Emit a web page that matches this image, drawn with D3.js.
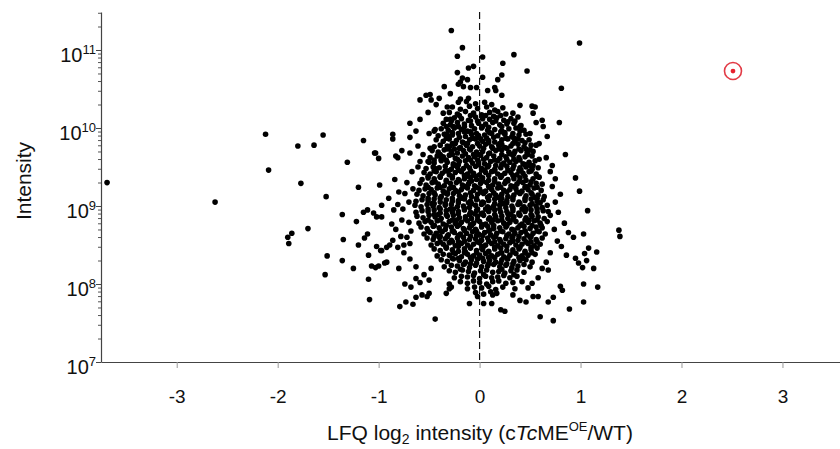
<!DOCTYPE html>
<html>
<head>
<meta charset="utf-8">
<script src="https://cdn.jsdelivr.net/npm/d3@7"></script>
<style>
  body { margin: 0; background: #fff; }
  text { font-family: "Liberation Sans", Arial, sans-serif; }
</style>
</head>
<body>
<svg id="graph"></svg>
<script>
// x: LFQ log2 ratio (cTcME OE / WT), e: log10 of intensity
var xTicks = [-3, -2, -1, 0, 1, 2, 3];
var yDecades = [7, 8, 9, 10, 11];

// the highlighted protein (red circle)
var highlight = [2.51, 10.73];

// sparse points around the cloud
var outliers = [
  [-3.69,9.30],[-2.62,9.05],[-2.12,9.92],[-2.09,9.46],[-1.80,9.77],[-1.64,9.78],[-1.55,9.91],[-1.77,9.29],
  [-1.52,9.12],[-1.70,8.71],[-1.86,8.65],[-1.90,8.60],[-1.89,8.52],[-1.51,8.36],[-1.53,8.12],
  [-1.31,9.56],[-1.20,9.24],[-1.15,9.84],[-1.03,9.68],[-1.00,9.61],[-0.99,9.27],[-0.97,9.01],[-1.36,8.89],
  [-1.15,8.92],[-1.11,8.95],[-1.05,8.91],[-1.02,8.86],[-0.97,8.86],[-1.22,8.80],[-1.35,8.57],[-1.20,8.50],
  [-1.11,8.64],[-1.14,8.59],[-1.02,8.48],[-0.97,8.43],[-0.92,8.47],[-1.36,8.30],[-1.25,8.20],[-1.10,8.37],
  [-1.07,8.23],[-1.03,8.21],[-1.00,8.23],[-0.94,8.27],[-0.92,8.28],[-1.10,8.06],[-1.09,7.80],
  [-0.28,11.25],[-0.17,11.03],[-0.22,10.92],[0.03,10.91],[-0.11,10.77],[-0.06,10.79],[-0.22,10.71],[0.03,10.65],
  [-0.17,10.64],[-0.12,10.62],[-0.21,10.56],[-0.19,10.59],[-0.35,10.53],[-0.16,10.53],[-0.09,10.52],[-0.03,10.52],
  [-0.29,10.44],[-0.53,10.42],[-0.49,10.43],[-0.59,10.36],[-0.48,10.36],[-0.43,10.30],[-0.40,10.38],[-0.32,10.27],
  [-0.21,10.33],[-0.19,10.37],[-0.11,10.38],[-0.51,10.20],[-0.36,10.19],[-0.69,10.06],[-0.59,10.11],[-0.63,9.96],
  [-0.50,9.93],[-0.44,9.98],[-0.45,9.96],[-0.29,10.11],[-0.86,9.92],[-0.86,9.86],[-0.69,9.88],[-0.35,9.92],
  [-0.32,9.91],[-0.61,9.77],[-0.77,9.71],[-0.69,9.68],[-0.83,9.64],[-0.81,9.62],[-1.04,9.68],[-0.56,9.66],
  [-0.49,9.74],[-0.41,9.65],[-0.30,9.76],[-0.24,9.80],[-0.59,9.57],[-0.61,9.50],[-0.50,9.56],[-0.44,9.48],[-0.67,9.44],
  [0.99,11.09],[0.34,10.94],[0.23,10.83],[0.47,10.73],[0.22,10.68],[0.18,10.62],[0.81,10.51],[0.08,10.48],
  [0.15,10.52],[0.16,10.48],[0.22,10.42],[0.40,10.29],[0.52,10.28],[0.55,10.27],[0.53,10.19],[0.79,10.07],
  [0.62,10.10],[0.56,10.07],[0.63,10.02],[0.67,9.89],[0.85,9.66],[0.59,9.80],[0.56,9.78],[0.59,9.60],
  [0.70,9.44],[0.50,9.93],[0.50,9.72],
  [0.95,9.36],[0.99,9.19],[1.07,8.94],[1.38,8.69],[1.39,8.61],[1.03,8.64],[1.16,8.41],[1.08,8.46],
  [1.04,8.39],[0.95,8.33],[0.98,8.27],[1.06,8.30],[1.02,8.21],[1.13,8.20],[1.17,7.96],[1.03,8.00],
  [1.03,7.77],[0.89,7.68],[0.60,7.58],[0.73,7.53],[0.84,8.78],[0.88,8.66],[0.93,8.60],[0.81,8.48],
  [0.86,8.37],[0.80,7.97],[0.82,7.92],[0.68,7.77],[0.73,7.83],[0.46,7.77],[0.53,7.84],[0.58,7.84],
  [0.25,7.65],[0.21,7.67],[0.12,7.75],[0.13,7.86],[0.33,7.86],[0.40,7.79],
  [-0.84,9.34],[-0.81,9.02],[-0.76,8.96],[-0.74,9.16],[-0.87,8.77],[-0.83,8.70],[-0.77,8.82],[-0.70,8.79],
  [-0.98,8.43],[-0.89,8.50],[-0.86,8.56],[-0.78,8.61],[-0.72,8.60],[-0.69,8.52],[-0.79,7.71],[-0.73,7.77],
  [-0.66,7.74],[-0.63,7.83],[-0.57,7.86],[-0.52,7.84],[-0.44,7.55],[-0.74,8.00],[-0.68,7.96],[-0.63,8.07],
  [-0.59,8.02],[-0.69,8.32],[-0.63,8.22],[-0.81,8.47],[-0.75,8.50],[-0.10,7.75],[-0.02,7.84],[0.04,7.75],
  [-0.50,7.88],[-0.33,7.88],[-0.30,7.94],
  [0.72,9.25],[0.75,9.05],[0.70,8.88],[0.78,8.92],[0.74,8.70],[0.77,8.55],[0.70,8.40],[0.66,8.28],
  [0.62,8.20],[0.72,9.52],[0.66,9.62],[0.75,9.35],[0.80,9.15],[0.68,8.18],[0.58,8.08],
  [-0.72,9.30],[-0.80,9.18],[-0.70,9.05],[-0.85,8.95],[-0.68,8.68],[-0.75,8.40],[-0.80,8.20],[-0.55,8.12],
  [-0.50,8.05],[-0.48,8.20],[-0.66,9.22],[-0.90,9.10]
];

// dense core of the cloud, read band by band
var core = [
  [-0.13,10.34],[-0.04,10.31],[0.05,10.33],[0.12,10.30],
  [-0.27,10.27],[-0.19,10.24],[-0.10,10.28],[-0.02,10.25],[0.07,10.27],[0.15,10.23],[0.23,10.26],
  [-0.30,10.20],[-0.22,10.18],[-0.14,10.21],[-0.06,10.19],[0.02,10.17],[0.10,10.20],[0.18,10.21],[0.26,10.18],[0.33,10.19],
  [-0.33,10.11],[-0.25,10.13],[-0.18,10.12],[-0.11,10.10],[-0.04,10.14],[0.03,10.12],[0.10,10.11],[0.17,10.13],[0.24,10.10],[0.31,10.12],[0.38,10.14],
  [-0.36,10.06],[-0.29,10.04],[-0.22,10.07],[-0.15,10.05],[-0.08,10.03],[-0.01,10.06],[0.06,10.05],[0.13,10.07],[0.20,10.04],[0.27,10.05],[0.34,10.06],[0.41,10.03],
  [-0.38,9.99],[-0.31,9.97],[-0.25,10.00],[-0.18,9.98],[-0.12,9.96],[-0.05,9.99],[0.02,10.00],[0.08,9.97],[0.15,9.98],[0.22,9.96],[0.29,9.99],[0.36,10.00],[0.44,9.97],
  [-0.41,9.90],[-0.34,9.92],[-0.27,9.91],[-0.21,9.93],[-0.14,9.89],[-0.08,9.92],[-0.01,9.90],[0.05,9.91],[0.12,9.93],[0.18,9.90],[0.25,9.92],[0.32,9.89],[0.39,9.91],[0.46,9.92],
  [-0.43,9.85],[-0.36,9.83],[-0.30,9.86],[-0.23,9.84],[-0.17,9.82],[-0.10,9.85],[-0.04,9.86],[0.03,9.83],[0.09,9.84],[0.15,9.82],[0.22,9.85],[0.28,9.86],[0.35,9.83],[0.42,9.84],[0.49,9.85],
  [-0.45,9.76],[-0.39,9.78],[-0.32,9.77],[-0.26,9.79],[-0.19,9.75],[-0.13,9.78],[-0.07,9.76],[0.00,9.77],[0.06,9.79],[0.12,9.76],[0.19,9.78],[0.25,9.75],[0.31,9.77],[0.38,9.79],[0.44,9.76],[0.51,9.78],
  [-0.47,9.71],[-0.41,9.69],[-0.35,9.72],[-0.28,9.70],[-0.22,9.68],[-0.16,9.71],[-0.09,9.72],[-0.03,9.69],[0.03,9.70],[0.10,9.68],[0.16,9.71],[0.22,9.72],[0.29,9.69],[0.35,9.70],[0.41,9.71],[0.47,9.68],[0.53,9.70],
  [-0.49,9.62],[-0.42,9.64],[-0.36,9.63],[-0.30,9.65],[-0.24,9.61],[-0.17,9.64],[-0.11,9.62],[-0.05,9.63],[0.01,9.65],[0.07,9.62],[0.14,9.64],[0.20,9.61],[0.26,9.63],[0.33,9.65],[0.39,9.62],[0.45,9.63],[0.52,9.64],
  [-0.51,9.57],[-0.45,9.55],[-0.38,9.58],[-0.32,9.56],[-0.26,9.54],[-0.20,9.57],[-0.14,9.58],[-0.07,9.55],[-0.01,9.56],[0.05,9.54],[0.11,9.57],[0.18,9.58],[0.24,9.55],[0.30,9.56],[0.36,9.57],[0.43,9.54],[0.49,9.56],[0.55,9.58],
  [-0.53,9.48],[-0.46,9.50],[-0.40,9.49],[-0.34,9.51],[-0.28,9.47],[-0.22,9.50],[-0.16,9.48],[-0.10,9.49],[-0.04,9.51],[0.02,9.48],[0.08,9.50],[0.15,9.47],[0.21,9.49],[0.27,9.51],[0.33,9.48],[0.40,9.49],[0.46,9.50],[0.52,9.47],[0.58,9.49],
  [-0.55,9.43],[-0.49,9.41],[-0.43,9.44],[-0.37,9.42],[-0.30,9.40],[-0.24,9.43],[-0.18,9.44],[-0.12,9.41],[-0.06,9.42],[0.00,9.40],[0.06,9.43],[0.12,9.44],[0.18,9.41],[0.25,9.42],[0.31,9.43],[0.37,9.40],[0.43,9.42],[0.49,9.44],[0.56,9.41],
  [-0.57,9.34],[-0.51,9.36],[-0.45,9.35],[-0.39,9.37],[-0.33,9.33],[-0.27,9.36],[-0.21,9.34],[-0.15,9.35],[-0.09,9.37],[-0.03,9.34],[0.03,9.36],[0.09,9.33],[0.15,9.35],[0.21,9.37],[0.28,9.34],[0.34,9.35],[0.40,9.36],[0.46,9.33],[0.53,9.35],[0.59,9.37],
  [-0.59,9.29],[-0.53,9.27],[-0.47,9.30],[-0.41,9.28],[-0.35,9.26],[-0.29,9.29],[-0.23,9.30],[-0.17,9.27],[-0.11,9.28],[-0.05,9.26],[0.01,9.29],[0.07,9.30],[0.13,9.27],[0.19,9.28],[0.25,9.29],[0.31,9.26],[0.37,9.28],[0.43,9.30],[0.50,9.27],[0.56,9.29],[0.62,9.28],
  [-0.60,9.20],[-0.54,9.22],[-0.48,9.21],[-0.42,9.23],[-0.36,9.19],[-0.30,9.22],[-0.24,9.20],[-0.18,9.21],[-0.12,9.23],[-0.06,9.20],[0.00,9.22],[0.06,9.19],[0.12,9.21],[0.18,9.23],[0.24,9.20],[0.30,9.21],[0.36,9.22],[0.42,9.19],[0.48,9.21],[0.54,9.23],[0.61,9.20],
  [-0.62,9.15],[-0.56,9.13],[-0.50,9.16],[-0.44,9.14],[-0.38,9.12],[-0.32,9.15],[-0.26,9.16],[-0.20,9.13],[-0.14,9.14],[-0.08,9.12],[-0.02,9.15],[0.04,9.16],[0.10,9.13],[0.16,9.14],[0.22,9.15],[0.28,9.12],[0.34,9.14],[0.40,9.16],[0.46,9.13],[0.52,9.15],[0.58,9.14],[0.64,9.12],
  [-0.63,9.06],[-0.57,9.08],[-0.51,9.07],[-0.45,9.09],[-0.39,9.05],[-0.33,9.08],[-0.27,9.06],[-0.21,9.07],[-0.15,9.09],[-0.09,9.06],[-0.03,9.08],[0.03,9.05],[0.09,9.07],[0.15,9.09],[0.21,9.06],[0.27,9.07],[0.33,9.08],[0.39,9.05],[0.45,9.07],[0.51,9.09],[0.57,9.06],[0.63,9.08],
  [-0.64,9.01],[-0.58,8.99],[-0.52,9.02],[-0.46,9.00],[-0.40,8.98],[-0.34,9.01],[-0.28,9.02],[-0.22,8.99],[-0.16,9.00],[-0.10,8.98],[-0.04,9.01],[0.02,9.02],[0.08,8.99],[0.14,9.00],[0.20,9.01],[0.26,8.98],[0.32,9.00],[0.38,9.02],[0.44,8.99],[0.50,9.01],[0.56,9.00],[0.62,8.98],[0.67,9.01],
  [-0.63,8.92],[-0.57,8.94],[-0.51,8.93],[-0.45,8.95],[-0.39,8.91],[-0.33,8.94],[-0.27,8.92],[-0.21,8.93],[-0.15,8.95],[-0.09,8.92],[-0.03,8.94],[0.03,8.91],[0.09,8.93],[0.15,8.95],[0.21,8.92],[0.27,8.93],[0.33,8.94],[0.39,8.91],[0.45,8.93],[0.51,8.95],[0.57,8.92],[0.63,8.94],[0.68,8.93],
  [-0.62,8.87],[-0.56,8.85],[-0.50,8.88],[-0.44,8.86],[-0.38,8.84],[-0.32,8.87],[-0.26,8.88],[-0.20,8.85],[-0.14,8.86],[-0.08,8.84],[-0.02,8.87],[0.04,8.88],[0.10,8.85],[0.16,8.86],[0.22,8.87],[0.28,8.84],[0.34,8.86],[0.40,8.88],[0.46,8.85],[0.52,8.87],[0.58,8.86],[0.64,8.84],
  [-0.60,8.78],[-0.54,8.80],[-0.48,8.79],[-0.42,8.81],[-0.36,8.77],[-0.30,8.80],[-0.24,8.78],[-0.18,8.79],[-0.12,8.81],[-0.06,8.78],[0.00,8.80],[0.06,8.77],[0.12,8.79],[0.18,8.81],[0.24,8.78],[0.30,8.79],[0.36,8.80],[0.42,8.77],[0.48,8.79],[0.54,8.81],[0.60,8.78],[0.67,8.80],
  [-0.58,8.73],[-0.52,8.71],[-0.46,8.74],[-0.40,8.72],[-0.34,8.70],[-0.28,8.73],[-0.22,8.74],[-0.16,8.71],[-0.10,8.72],[-0.04,8.70],[0.02,8.73],[0.08,8.74],[0.14,8.71],[0.20,8.72],[0.26,8.73],[0.32,8.70],[0.38,8.72],[0.44,8.74],[0.50,8.71],[0.56,8.73],[0.62,8.72],
  [-0.55,8.64],[-0.49,8.66],[-0.43,8.65],[-0.37,8.67],[-0.31,8.63],[-0.25,8.66],[-0.19,8.64],[-0.13,8.65],[-0.07,8.67],[-0.01,8.64],[0.05,8.66],[0.11,8.63],[0.17,8.65],[0.23,8.67],[0.29,8.64],[0.35,8.65],[0.41,8.66],[0.47,8.63],[0.53,8.65],[0.59,8.67],[0.65,8.64],
  [-0.52,8.59],[-0.46,8.57],[-0.40,8.60],[-0.34,8.58],[-0.28,8.56],[-0.22,8.59],[-0.16,8.60],[-0.10,8.57],[-0.04,8.58],[0.02,8.56],[0.08,8.59],[0.14,8.60],[0.20,8.57],[0.26,8.58],[0.32,8.59],[0.38,8.56],[0.44,8.58],[0.50,8.60],[0.56,8.57],[0.62,8.59],
  [-0.48,8.50],[-0.42,8.52],[-0.36,8.51],[-0.30,8.53],[-0.24,8.49],[-0.18,8.52],[-0.12,8.50],[-0.06,8.51],[0.00,8.53],[0.06,8.50],[0.12,8.52],[0.18,8.49],[0.24,8.51],[0.30,8.53],[0.36,8.50],[0.42,8.51],[0.48,8.52],[0.54,8.49],[0.60,8.51],
  [-0.45,8.45],[-0.39,8.43],[-0.33,8.46],[-0.27,8.44],[-0.21,8.42],[-0.15,8.45],[-0.09,8.46],[-0.03,8.43],[0.03,8.44],[0.09,8.42],[0.15,8.45],[0.21,8.46],[0.27,8.43],[0.33,8.44],[0.39,8.45],[0.45,8.42],[0.51,8.44],[0.57,8.46],
  [-0.42,8.36],[-0.36,8.38],[-0.30,8.37],[-0.24,8.39],[-0.18,8.35],[-0.12,8.38],[-0.06,8.36],[0.00,8.37],[0.06,8.39],[0.12,8.36],[0.18,8.38],[0.24,8.35],[0.30,8.37],[0.36,8.39],[0.42,8.36],[0.48,8.37],[0.55,8.38],
  [-0.38,8.31],[-0.32,8.29],[-0.26,8.32],[-0.20,8.30],[-0.14,8.28],[-0.08,8.31],[-0.02,8.32],[0.04,8.29],[0.10,8.30],[0.16,8.28],[0.22,8.31],[0.28,8.32],[0.34,8.29],[0.40,8.30],[0.46,8.31],[0.52,8.28],
  [-0.35,8.22],[-0.28,8.24],[-0.22,8.23],[-0.16,8.25],[-0.10,8.21],[-0.04,8.24],[0.02,8.22],[0.08,8.23],[0.14,8.25],[0.20,8.22],[0.26,8.24],[0.32,8.21],[0.38,8.23],[0.44,8.25],[0.50,8.22],
  [-0.30,8.17],[-0.24,8.15],[-0.17,8.18],[-0.11,8.16],[-0.05,8.14],[0.01,8.17],[0.07,8.18],[0.13,8.15],[0.19,8.16],[0.25,8.14],[0.31,8.17],[0.37,8.18],[0.44,8.15],
  [-0.25,8.08],[-0.18,8.10],[-0.12,8.09],[-0.06,8.11],[0.00,8.07],[0.06,8.10],[0.12,8.08],[0.18,8.09],[0.24,8.11],[0.30,8.08],[0.37,8.10],
  [-0.30,8.00],[-0.19,8.03],[-0.12,8.01],[-0.06,8.04],[0.00,8.02],[0.07,8.00],[0.13,8.03],[0.19,8.04],[0.26,8.01],[0.33,8.02],[0.42,8.03],[0.52,8.01],
  [-0.28,7.96],[-0.12,7.94],[-0.05,7.96],[0.02,7.95],[0.09,7.97],[0.16,7.93],[0.23,7.96],[0.35,7.94],[0.48,7.95],
  [-0.04,7.89],[0.04,7.87],[0.11,7.90],[0.17,7.88]
];

// extra points where the centre of the cloud is solid black
var coreFill = [
  [-0.20,10.16],[-0.02,10.09],[0.14,10.15],[0.28,10.08],[-0.26,10.02],[-0.09,9.95],[0.09,10.01],[0.25,9.94],[0.40,9.96],
  [-0.31,9.88],[-0.12,9.80],[0.07,9.87],[0.20,9.80],[0.34,9.87],[-0.25,9.73],[-0.06,9.66],[0.13,9.74],[0.30,9.67],[0.46,9.73],
  [-0.38,9.60],[-0.21,9.53],[-0.02,9.59],[0.16,9.52],[0.34,9.60],[0.50,9.52],[-0.31,9.45],[-0.13,9.38],[0.05,9.46],[0.22,9.39],[0.41,9.46],
  [-0.44,9.31],[-0.26,9.24],[-0.08,9.32],[0.10,9.24],[0.28,9.32],[0.46,9.25],[-0.35,9.17],[-0.17,9.10],[0.01,9.18],[0.19,9.11],[0.37,9.18],[0.55,9.11],
  [-0.47,9.03],[-0.29,8.96],[-0.11,9.04],[0.06,8.96],[0.24,9.03],[0.42,8.96],[0.60,9.04],[-0.41,8.89],[-0.23,8.82],[-0.05,8.90],[0.13,8.82],[0.31,8.89],[0.49,8.82],
  [-0.45,8.75],[-0.27,8.68],[-0.09,8.76],[0.09,8.68],[0.27,8.75],[0.45,8.68],[0.61,8.75],[-0.39,8.61],[-0.21,8.54],[-0.03,8.62],[0.15,8.54],[0.33,8.61],[0.51,8.54],
  [-0.33,8.47],[-0.15,8.40],[0.03,8.48],[0.21,8.40],[0.39,8.47],[-0.27,8.33],[-0.09,8.26],[0.09,8.34],[0.27,8.26],[0.43,8.33],[-0.19,8.19],[0.04,8.12],[0.22,8.19],[0.34,8.12],
  [-0.27,9.94],[-0.15,9.95],[-0.03,9.93],[0.10,9.94],[0.21,9.95],[0.33,9.93],
  [-0.33,9.87],[-0.20,9.88],[-0.07,9.87],[0.01,9.86],[0.14,9.88],[0.26,9.87],[0.38,9.86],
  [-0.27,9.80],[-0.16,9.81],[-0.02,9.80],[0.09,9.81],[0.22,9.79],[0.33,9.80],[0.45,9.81],
  [-0.32,9.73],[-0.20,9.74],[-0.10,9.73],[0.04,9.74],[0.19,9.73],[0.27,9.74],[0.39,9.73],
  [-0.27,9.66],[-0.14,9.67],[-0.01,9.66],[0.09,9.67],[0.22,9.66],[0.34,9.67],[0.48,9.66],
  [-0.33,9.59],[-0.22,9.60],[-0.09,9.59],[0.04,9.60],[0.15,9.59],[0.27,9.60],[0.40,9.59],
  [-0.26,9.52],[-0.13,9.52],[-0.01,9.53],[0.09,9.52],[0.22,9.53],[0.34,9.52],[0.45,9.53],
  [-0.34,9.45],[-0.21,9.46],[-0.09,9.45],[0.02,9.46],[0.15,9.45],[0.28,9.46],[0.39,9.45],
  [-0.27,9.38],[-0.15,9.39],[-0.04,9.38],[0.09,9.39],[0.21,9.38],[0.33,9.39],[0.45,9.38],
  [-0.33,9.31],[-0.20,9.32],[-0.10,9.31],[0.03,9.32],[0.15,9.31],[0.26,9.32],[0.39,9.31],
  [-0.28,9.24],[-0.14,9.25],[-0.03,9.24],[0.09,9.25],[0.21,9.24],[0.34,9.25],[0.45,9.24],
  [-0.32,9.17],[-0.21,9.18],[-0.09,9.17],[0.03,9.18],[0.14,9.17],[0.27,9.18],[0.40,9.17],
  [-0.27,9.10],[-0.15,9.11],[-0.03,9.10],[0.08,9.11],[0.22,9.10],[0.33,9.11],[0.45,9.10],
  [-0.34,9.03],[-0.21,9.04],[-0.08,9.03],[0.04,9.04],[0.15,9.03],[0.27,9.04],[0.40,9.03],
  [-0.26,8.96],[-0.15,8.97],[-0.02,8.96],[0.10,8.97],[0.20,8.96],[0.33,8.97],[0.46,8.96],
  [-0.33,8.89],[-0.21,8.90],[-0.10,8.89],[0.02,8.90],[0.15,8.89],[0.28,8.90],[0.39,8.89],
  [-0.27,8.82],[-0.14,8.83],[-0.02,8.82],[0.09,8.83],[0.22,8.82],[0.33,8.83],[0.45,8.82],
  [-0.33,8.75],[-0.20,8.76],[-0.08,8.75],[0.03,8.76],[0.14,8.75],[0.27,8.76],[0.40,8.75],
  [-0.26,8.68],[-0.15,8.69],[-0.03,8.68],[0.10,8.69],[0.21,8.68],[0.34,8.69],[0.45,8.68],
  [-0.32,8.61],[-0.21,8.62],[-0.09,8.61],[0.03,8.62],[0.16,8.61],[0.27,8.62],[0.39,8.61],
  [-0.27,8.54],[-0.15,8.55],[-0.02,8.54],[0.09,8.55],[0.21,8.54],[0.33,8.55],[0.46,8.54],
  [-0.33,8.47],[-0.21,8.48],[-0.09,8.47],[0.04,8.48],[0.15,8.47],[0.27,8.48],[0.40,8.47],
  [-0.26,8.40],[-0.14,8.41],[-0.03,8.40],[0.09,8.41],[0.22,8.40],[0.33,8.41],[0.45,8.40],
  [-0.21,8.33],[-0.09,8.34],[0.03,8.33],[0.15,8.34],[0.27,8.33],[0.39,8.34],
  [-0.15,8.26],[-0.03,8.27],[0.09,8.26],[0.21,8.27],[0.33,8.26],
  [0.53,9.52],[0.51,9.45],[0.57,9.38],[0.51,9.31],[0.57,9.24],[0.51,9.17],[0.57,9.10],[0.52,9.03],[0.57,8.96],
  [0.51,8.89],[0.57,8.82],[0.52,8.75],[0.57,8.68],[0.51,8.61],[0.57,8.54],[0.51,8.47],[0.52,8.40],
  [-0.45,9.45],[-0.51,9.38],[-0.39,9.38],[-0.45,9.31],[-0.51,9.24],[-0.39,9.24],[-0.45,9.17],[-0.51,9.10],[-0.39,9.10],
  [-0.45,9.03],[-0.51,8.96],[-0.39,8.96],[-0.45,8.89],[-0.51,8.82],[-0.39,8.82],[-0.45,8.75],[-0.51,8.68],[-0.39,8.68],
  [-0.45,8.61],[-0.39,8.54],[-0.45,9.59],[-0.39,9.66],
  [-0.33,10.02],[-0.21,10.02],[-0.09,10.09],[0.03,10.02],[0.16,10.09],[0.22,10.02],[0.35,10.09],[-0.28,10.09],
  [-0.09,10.16],[0.06,10.16],[0.21,10.16],[-0.15,10.02],[0.40,10.02]
];

var W = 840, H = 449;
var svg = d3.select("#graph").attr("width", W).attr("height", H);

var x = d3.scaleLinear().domain([-3.75, 3.57]).range([101, 840]);
var y = d3.scaleLog().domain([1e7, Math.pow(10, 11.487)]).range([362, 12]);

// minor log ticks
var minor = [];
yDecades.forEach(function(d){
  for (var k = 2; k <= 9; k++) {
    var v = k * Math.pow(10, d);
    if (v <= y.domain()[1]) minor.push(v);
  }
});

svg.append("g")
  .attr("transform", "translate(101,0)")
  .call(d3.axisLeft(y).tickValues(minor).tickSize(3).tickFormat(""))
  .call(function(g){ g.select(".domain").remove(); })
  .selectAll("line").attr("stroke", "#555");

var yAxis = svg.append("g")
  .attr("transform", "translate(101,0)")
  .call(d3.axisLeft(y).tickValues(yDecades.map(function(d){ return Math.pow(10, d); }))
    .tickSize(5).tickSizeOuter(0).tickFormat(""));
yAxis.select(".domain").attr("stroke", "#444").attr("stroke-width", 1.2);
yAxis.selectAll("line").attr("stroke", "#444");
yAxis.selectAll("text").remove();

// decade labels 10^n
var ylab = svg.append("g");
yDecades.forEach(function(d){
  var t = ylab.append("text")
    .attr("x", 96)
    .attr("y", y(Math.pow(10, d)) + 12)
    .attr("text-anchor", "end")
    .attr("font-size", 20)
    .attr("fill", "#111");
  t.append("tspan").text("10");
  t.append("tspan").attr("dy", -8).attr("font-size", 13).text(d);
});

var xAxis = svg.append("g")
  .attr("transform", "translate(0,362)")
  .call(d3.axisBottom(x).tickValues(xTicks).tickSize(6).tickSizeOuter(0).tickPadding(22)
    .tickFormat(function(d){ return String(d); }));
xAxis.select(".domain").attr("stroke", "#444").attr("stroke-width", 1.2);
xAxis.selectAll(".tick line").attr("stroke", "#999");
xAxis.selectAll("text")
  .attr("font-size", 19)
  .attr("fill", "#111")
  .attr("font-family", "Liberation Sans, Arial, sans-serif");

// zero line
svg.append("line")
  .attr("x1", x(0)).attr("x2", x(0))
  .attr("y1", 12).attr("y2", 362)
  .attr("stroke", "#111")
  .attr("stroke-width", 1.2)
  .attr("stroke-dasharray", "7,4");

// points
var pts = outliers.concat(core, coreFill);
svg.append("g").selectAll("circle")
  .data(pts)
  .enter().append("circle")
  .attr("cx", function(d){ return x(d[0]); })
  .attr("cy", function(d){ return y(Math.pow(10, d[1])); })
  .attr("r", 2.8)
  .attr("fill", "#000");

// highlighted protein
svg.append("circle")
  .attr("cx", x(highlight[0]))
  .attr("cy", y(Math.pow(10, highlight[1])))
  .attr("r", 8.5)
  .attr("fill", "none")
  .attr("stroke", "#e23a45")
  .attr("stroke-width", 1.6);
svg.append("circle")
  .attr("cx", x(highlight[0]))
  .attr("cy", y(Math.pow(10, highlight[1])))
  .attr("r", 2.4)
  .attr("fill", "#e8202e");

// axis titles
svg.append("text")
  .attr("text-anchor", "middle")
  .attr("transform", "translate(31,181) rotate(-90)")
  .attr("font-size", 21)
  .attr("fill", "#111")
  .text("Intensity");

var xt = svg.append("text")
  .attr("text-anchor", "middle")
  .attr("x", 480)
  .attr("y", 440)
  .attr("font-size", 21)
  .attr("fill", "#111");
xt.append("tspan").text("LFQ log");
xt.append("tspan").attr("font-size", 14).attr("dy", 4).text("2");
xt.append("tspan").attr("dy", -4).text(" intensity (c");
xt.append("tspan").attr("font-style", "italic").text("Tc");
xt.append("tspan").text("ME");
xt.append("tspan").attr("font-size", 13).attr("dy", -9).text("OE");
xt.append("tspan").attr("dy", 9).text("/WT)");
</script>
</body>
</html>
